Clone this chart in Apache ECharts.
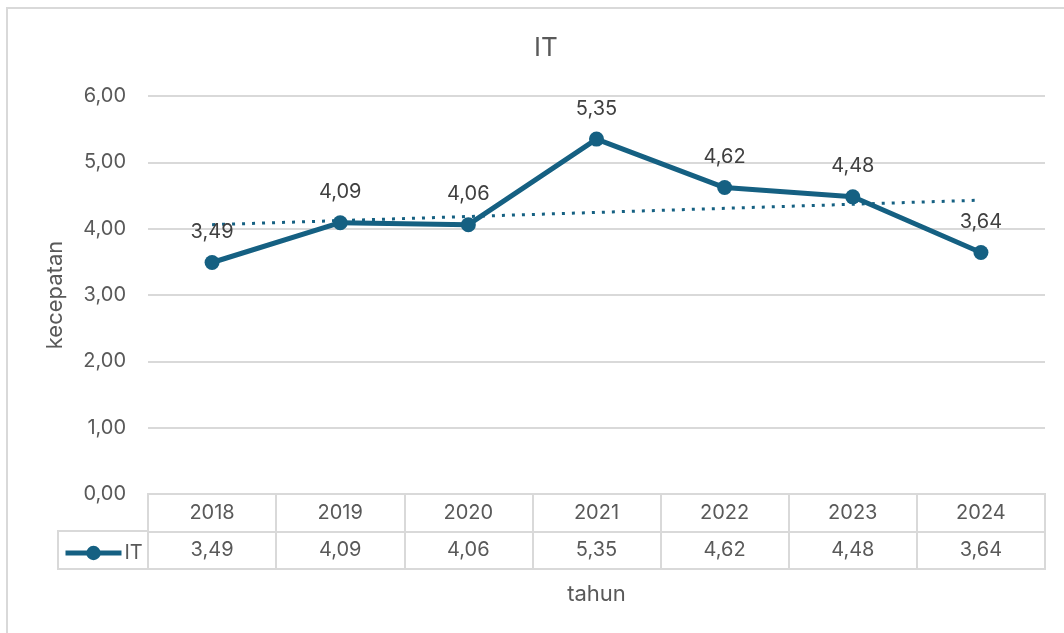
<!DOCTYPE html>
<html>
<head>
<meta charset="utf-8">
<script src="https://cdn.jsdelivr.net/npm/echarts@6/dist/echarts.min.js"></script>
<style>
  html, body { margin: 0; padding: 0; background: #fff; }
  #chart { width: 1064px; height: 633px; }
</style>
</head>
<body>
<div id="chart"></div>
<script>
// data
const years = ['2018', '2019', '2020', '2021', '2022', '2023', '2024']
const itValues = [3.49, 4.09, 4.06, 5.35, 4.62, 4.48, 3.64]
// linear trendline ends
const trendYears = ['2018', '2024']
const trendValues = [4.06, 4.43]
const yTicks = [0, 1, 2, 3, 4, 5, 6]

const blue = '#156082'
const textCol = '#595959'
const gridCol = '#d9d9d9'
const font = 'Inter'

const fmt = v => Number(v).toFixed(2).replace('.', ',')

// table cells: top row years, bottom row values
const cellData = []
years.forEach((y, i) => {
  cellData.push({value: [y, 'year'], label: {formatter: y}})
  cellData.push({value: [y, 'val'], label: {formatter: fmt(itValues[i])}})
})

const chart = echarts.init(document.getElementById('chart'))
chart.setOption({
  animation: false,
  textStyle: {fontFamily: font},
  title: {
    text: 'IT',
    left: 541,
    textAlign: 'center',
    top: 30,
    textStyle: {fontFamily: font, fontSize: 26, fontWeight: 'normal', color: textCol}
  },
  legend: {
    data: ['IT'],
    left: 58,
    top: 538,
    itemWidth: 56,
    itemHeight: 18,
    lineStyle: {width: 5},
    textStyle: {fontFamily: font, fontSize: 20, color: textCol, padding: [0, 0, 0, -2]}
  },
  grid: [
    {left: 148, right: 19, top: 96, bottom: 139},
    {left: 148, right: 19, top: 494, height: 75, show: true, borderColor: gridCol, borderWidth: 2}
  ],
  xAxis: [
    {
      type: 'category',
      data: years,
      gridIndex: 0,
      axisLine: {show: false},
      axisTick: {show: false},
      axisLabel: {show: false}
    },
    {
      type: 'category',
      data: years,
      gridIndex: 1,
      position: 'bottom',
      name: 'tahun',
      nameLocation: 'middle',
      nameGap: 14,
      nameTextStyle: {fontFamily: font, fontSize: 22, color: textCol, verticalAlign: 'top'},
      axisLine: {show: false},
      axisTick: {show: false},
      axisLabel: {show: false},
      splitLine: {show: true, lineStyle: {color: gridCol, width: 2}}
    }
  ],
  yAxis: [
    {
      type: 'value',
      gridIndex: 0,
      min: yTicks[0],
      max: yTicks[yTicks.length - 1],
      interval: 1,
      name: 'kecepatan',
      nameLocation: 'middle',
      nameGap: 82,
      nameTextStyle: {fontFamily: font, fontSize: 22, color: textCol},
      axisLabel: {formatter: fmt, margin: 22, fontSize: 20, color: textCol, fontFamily: font},
      axisLine: {show: false},
      axisTick: {show: false},
      splitLine: {lineStyle: {color: gridCol, width: 2}}
    },
    {
      type: 'category',
      data: ['val', 'year'],
      gridIndex: 1,
      axisLine: {show: false},
      axisTick: {show: false},
      axisLabel: {show: false},
      splitLine: {show: true, lineStyle: {color: gridCol, width: 2}}
    }
  ],
  series: [
    {
      name: 'IT',
      type: 'line',
      data: itValues,
      xAxisIndex: 0,
      yAxisIndex: 0,
      color: blue,
      symbol: 'circle',
      symbolSize: 15,
      lineStyle: {width: 5, color: blue},
      itemStyle: {color: blue},
      label: {
        show: true,
        position: 'top',
        distance: 13,
        formatter: p => fmt(p.value),
        fontSize: 20,
        fontFamily: font,
        color: '#404040'
      },
      z: 3
    },
    {
      name: 'Linear (IT)',
      type: 'line',
      data: trendYears.map((y, i) => [y, trendValues[i]]),
      xAxisIndex: 0,
      yAxisIndex: 0,
      symbol: 'none',
      lineStyle: {width: 3, color: blue, type: [3, 7]},
      z: 2
    },
    {
      name: 'table',
      type: 'scatter',
      xAxisIndex: 1,
      yAxisIndex: 1,
      data: cellData,
      symbolSize: 0,
      itemStyle: {opacity: 1},
      label: {
        show: true,
        position: 'inside',
        fontSize: 20,
        fontFamily: font,
        color: textCol,
        opacity: 1
      },
      silent: true
    }
  ],
  graphic: [
    {
      type: 'rect',
      shape: {x: 7, y: 8, width: 1120, height: 700},
      style: {fill: 'none', stroke: gridCol, lineWidth: 2},
      silent: true
    },
    {
      type: 'rect',
      shape: {x: 58, y: 531, width: 90, height: 38},
      style: {fill: 'none', stroke: gridCol, lineWidth: 2},
      silent: true
    }
  ]
})
</script>
</body>
</html>
